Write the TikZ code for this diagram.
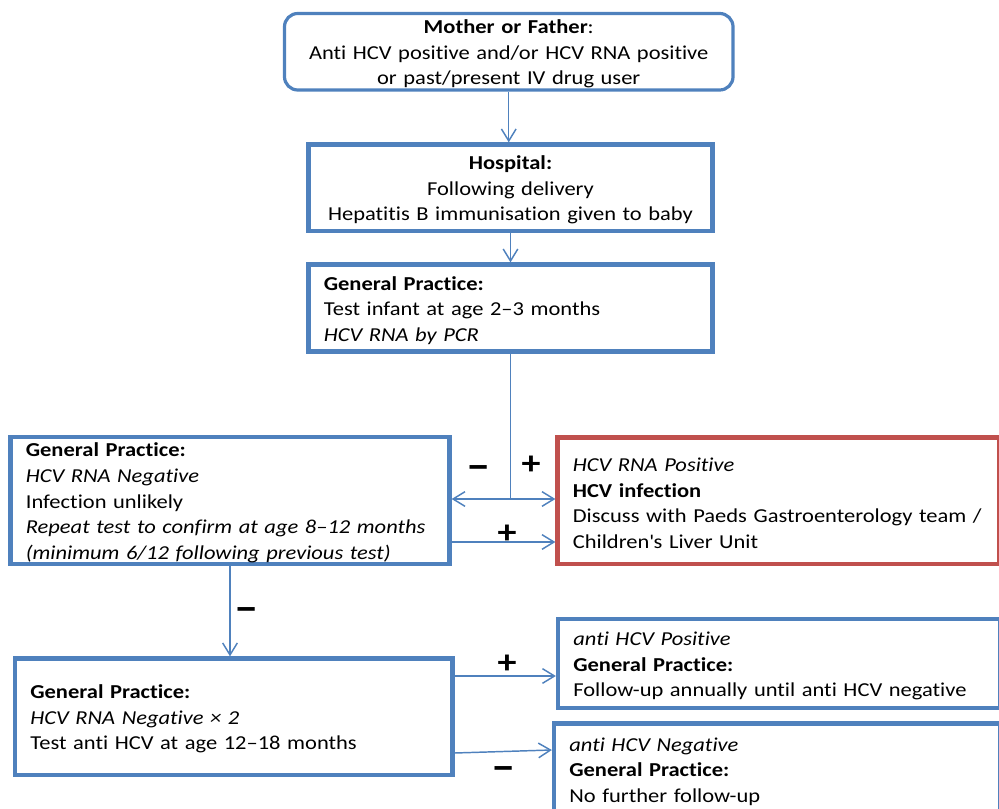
\documentclass[tikz,border=0pt]{standalone}
\usepackage{fontspec}
\setmainfont{Carlito}[FakeStretch=1.14,Ligatures={NoCommon}]
\usetikzlibrary{arrows.meta}
\definecolor{flowblue}{HTML}{4F81BD}
\definecolor{flowred}{HTML}{C0504D}

\begin{document}
\begin{tikzpicture}[x=0.75pt,y=-0.75pt,
every node/.style={font={\fontsize{14.8}{19.2}\selectfont}},
box/.style={draw=flowblue,line width=3.2pt,inner xsep=11.5pt,inner ysep=1pt,text height=14pt},
leftbox/.style={box,align=left},
link/.style={draw=flowblue,line width=1.1pt,-{Straight Barb[length=9pt,width=11pt,line width=1.1pt]}},
sign/.style={font={\fontsize{#1}{#1}\selectfont\bfseries}}
]
\useasboundingbox (0,0) rectangle (999,809);
\clip (0,0) rectangle (999,809);

\node[box,line width=2.4pt,rounded corners=10pt,align=center,text width=313.4pt,minimum height=57.4pt] (parent) at (508.75,51.75)
{\textbf{Mother or Father}:\\Anti HCV positive and/or HCV RNA positive\\or past/present IV drug user};
\node[box,align=center,text width=280pt,minimum height=64.9pt] (hosp) at (510.5,187.75)
{\textbf{Hospital:}\\Following delivery\\Hepatitis B immunisation given to baby};
\node[leftbox,text width=280pt,minimum height=65.25pt] (gp1) at (510.5,308)
{\textbf{General Practice:}\\Test infant at age 2–3 months\\\textit{HCV RNA by PCR}};
\node[leftbox,text width=306.25pt,minimum height=95.25pt] (gpneg) at (230,500.5)
{\textbf{General Practice:}\\\textit{HCV RNA Negative}\\Infection unlikely\\\textit{Repeat test to confirm at age 8–12 months}\\\textit{(minimum 6/12 following previous test)}};
\node[leftbox,draw=flowred,text width=308.1pt,minimum height=94.9pt] (rnapos) at (778.25,500.75)
{\textit{HCV RNA Positive}\\\textbf{HCV infection}\\Discuss with Paeds Gastroenterology team /\\Children\textquotesingle s Liver Unit};
\node[leftbox,text width=305.1pt,minimum height=87.4pt] (gptwo) at (233.75,716.75)
{\textbf{General Practice:}\\\textit{HCV RNA Negative × 2}\\Test anti HCV at age 12–18 months};
\node[leftbox,text width=308.5pt,minimum height=66.75pt] (antipos) at (779,663.5)
{\textit{anti HCV Positive}\\\textbf{General Practice:}\\Follow-up annually until anti HCV negative};
\node[leftbox,text width=311.5pt,minimum height=68.25pt] (antineg) at (777,769)
{\textit{anti HCV Negative}\\\textbf{General Practice:}\\No further follow-up};

\coordinate (split) at (gp1.south |- 0,499);

\draw[link] (parent.south) -- (parent.south |- hosp.north);
\draw[link] (hosp) -- (gp1);
\draw[flowblue,line width=1.1pt] (gp1.south) -- (split);
\draw[link] (split) -- (split -| gpneg.east);
\draw[link] (split) -- (split -| rnapos.west);
\draw[link] (gpneg.east |- 0,542) -- (rnapos.west |- 0,542);
\draw[link] (gpneg.south) -- (gpneg.south |- gptwo.north);
\draw[link] (gptwo.east |- 0,676) -- (antipos.west |- 0,676);
\draw[link] (gptwo.east |- 0,753) -- (antineg.west |- 0,750);

\foreach \nm/\sg/\sz/\px/\py in {sa/\textendash/32/479/473,sb/+/25/531/465,sc/+/25/507/534,sd/\textendash/32/247/615,se/+/25/507/664,sf/\textendash/32/504/774}
\node[sign=\sz] (\nm) at (\px,\py) {\sg};
\end{tikzpicture}
\end{document}
